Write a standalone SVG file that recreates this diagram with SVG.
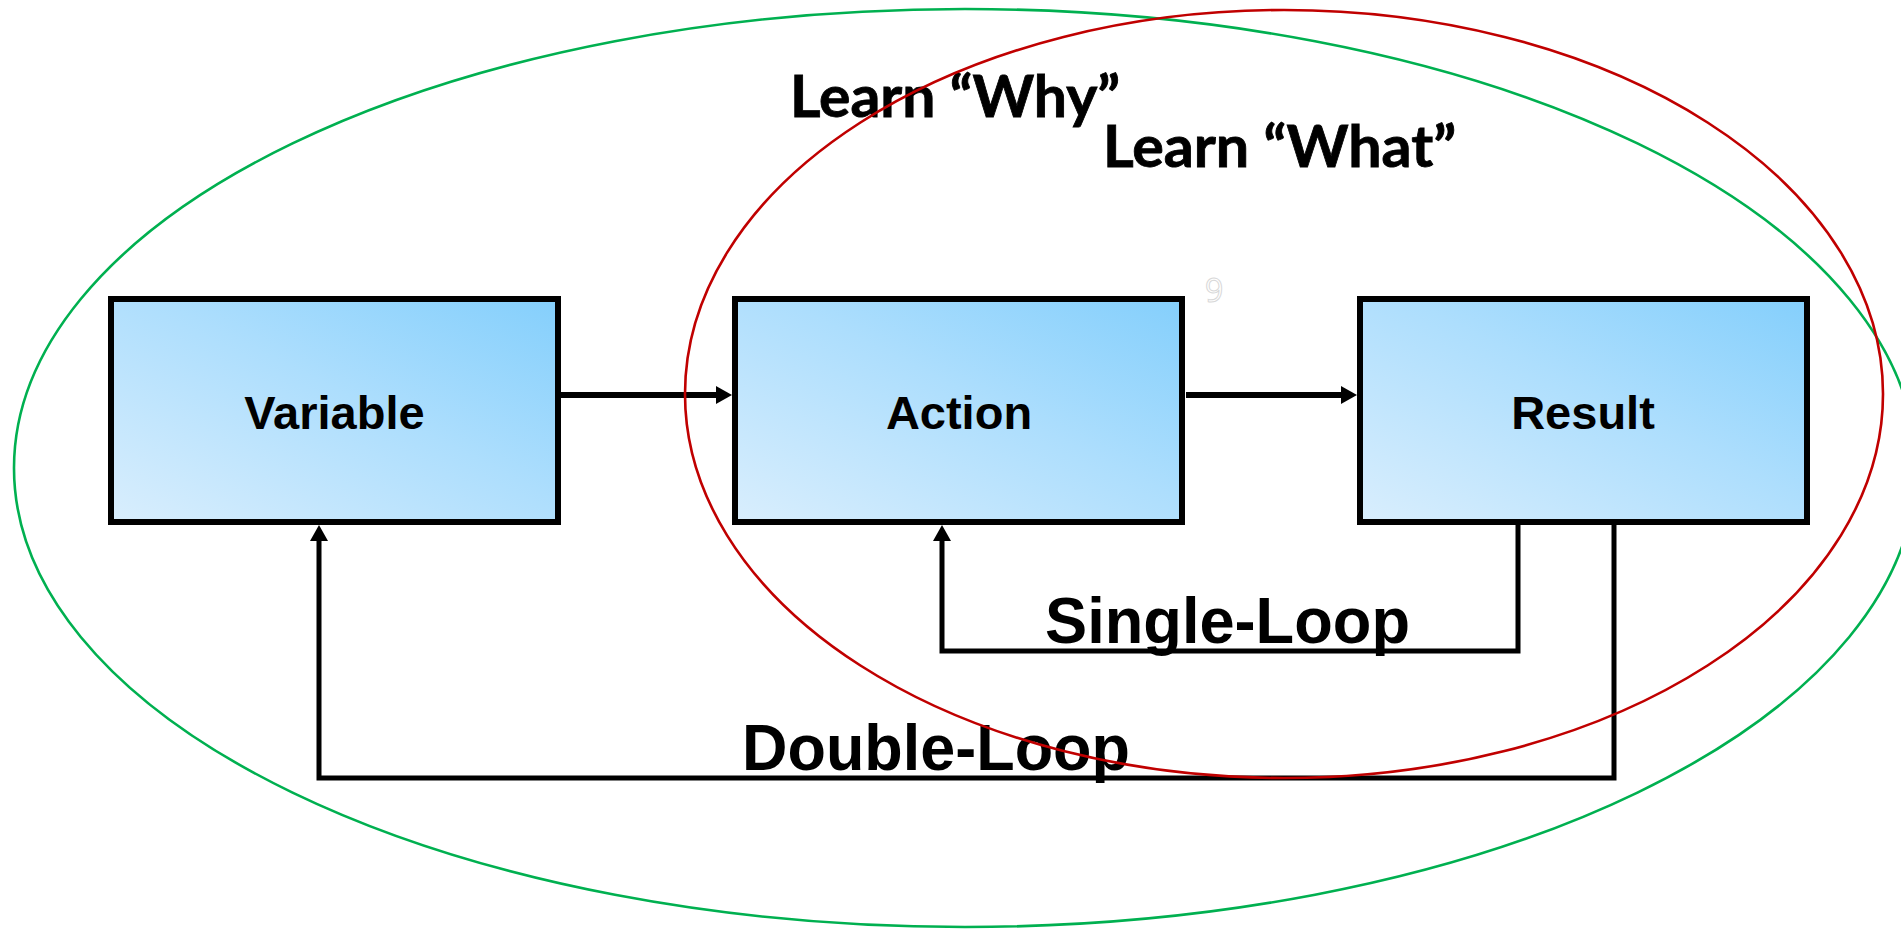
<svg xmlns="http://www.w3.org/2000/svg" width="1901" height="929" viewBox="0 0 1901 929">
  <style>
    .box { stroke: #000; stroke-width: 6; fill: url(#boxGrad); }
    .lbl { font-family: "Liberation Sans", Arial, sans-serif; font-weight: bold; font-size: 47px; fill: #000; text-anchor: middle; }
    .loop { font-family: "Liberation Sans", Arial, sans-serif; font-weight: bold; font-size: 65px; fill: #000; }
    .learn { font-family: Lato, "Open Sans", sans-serif; font-weight: bold; font-size: 57px; fill: #000; stroke: #000; stroke-width: 0.8; }
    .conn { fill: none; stroke: #000; stroke-width: 5; }
    .fwd { stroke-width: 6; }
    .ell { fill: none; stroke-width: 2.6; }
  </style>
  <defs>
    <linearGradient id="boxGrad" x1="0" y1="1" x2="1" y2="0">
      <stop offset="0" stop-color="#D9EEFD"/>
      <stop offset="0.55" stop-color="#ADDEFD"/>
      <stop offset="1" stop-color="#84CFFC"/>
    </linearGradient>
    <marker id="arrow" viewBox="0 0 16 18" markerWidth="16" markerHeight="18" refX="2" refY="9" orient="auto" markerUnits="userSpaceOnUse">
      <path d="M0,0 L16,9 L0,18 Z" fill="#000"/>
    </marker>
  </defs>

  <rect width="1901" height="929" fill="#fff"/>

  <g id="variable">
    <rect class="box" x="111" y="299" width="447" height="223"/>
    <text class="lbl" x="334.5" y="429">Variable</text>
  </g>
  <g id="action">
    <rect class="box" x="735" y="299" width="447" height="223"/>
    <text class="lbl" x="959" y="429">Action</text>
  </g>
  <g id="result">
    <rect class="box" x="1360" y="299" width="447" height="223"/>
    <text class="lbl" x="1583" y="429">Result</text>
  </g>

  <g id="connectors">
    <line class="conn fwd" x1="561" y1="395" x2="718" y2="395" marker-end="url(#arrow)"/>
    <line class="conn fwd" x1="1186" y1="395" x2="1343" y2="395" marker-end="url(#arrow)"/>
    <polyline class="conn" points="1518,524 1518,651 942,651 942,539" marker-end="url(#arrow)"/>
    <polyline class="conn" points="1614,524 1614,778 319,778 319,539" marker-end="url(#arrow)"/>
  </g>

  <g id="labels">
    <text class="loop" x="1045" y="643" textLength="365" lengthAdjust="spacingAndGlyphs">Single-Loop</text>
    <text class="loop" x="742" y="770" textLength="388" lengthAdjust="spacingAndGlyphs">Double-Loop</text>
    <text class="learn" x="790" y="117" textLength="330" lengthAdjust="spacingAndGlyphs">Learn “Why”</text>
    <text class="learn" x="1103" y="167" textLength="353" lengthAdjust="spacingAndGlyphs">Learn “What”</text>
    <text x="1205" y="302" font-family="Open Sans, sans-serif" font-size="32" fill="#fff" stroke="#d8d8d8" stroke-width="1">9</text>
  </g>

  <g id="learn-why-loop">
    <ellipse class="ell" cx="965" cy="468" rx="951" ry="459" stroke="#00B050"/>
  </g>
  <g id="learn-what-loop">
    <ellipse class="ell" cx="1284" cy="394" rx="599" ry="384" stroke="#C00000"/>
  </g>
</svg>
